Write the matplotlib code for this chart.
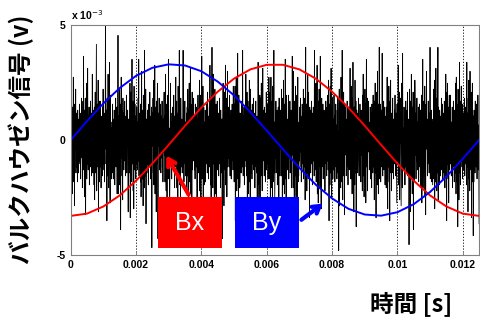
import numpy as np
import matplotlib
matplotlib.use("Agg")
import matplotlib.pyplot as plt
from matplotlib.patches import Rectangle

# Barkhausen noise samples, raw ADC counts (1 count = 0.13 mV)
noise = [
    3, -12, 8, 15, -6, -18, 11, 2, -9, 21, -4, -14, 7, -22, 12, 5, -3, 17, -11, 9,
    6, -9, 2, -14, 10, -4, 7, -11, 3, -7, 12, -2, -8, 5, -13, 9, -1, 14, -6, 4,
    -16, 4, 13, -7, 28, -10, 1, -19, 10, -5, 14, -25, 6, -2, 19, -13, 8, -8, 24, -1,
    -10, 8, -3, 11, -15, 1, 6, -9, 13, -5, 2, -12, 9, -7, 22, -4, -11, 7, -2, 10,
    -15, 11, -20, 3, 16, -6, -11, 9, 32, -17, 2, 12, -9, -3, 20, -24, 7, 13, -14, 5,
    -6, 13, -9, 3, -16, 8, -1, 5, -12, 11, -4, 17, -8, 2, -10, 6, -14, 9, -3, 38,
    18, -8, -2, 10, -27, 14, 4, -12, 22, -5, -16, 9, 1, 26, -10, -21, 15, -4, 6, -13,
    -7, 4, -11, 12, -2, 7, -13, 5, -8, 10, -1, -15, 8, -5, 14, -9, 3, -6, 11, -18,
    11, -7, 35, -18, 3, 8, -15, 17, -2, -9, 12, -30, 5, 21, -6, 10, -12, 2, -20, 14,
    2, 9, -10, 6, -3, 13, -7, 1, -12, 8, -4, 15, -11, 5, -2, 10, -9, -24, 7, -6,
    -3, 7, -11, 19, -26, 9, 16, -4, -14, 4, 27, -8, -1, 13, -17, 6, -23, 18, 0, -10,
    12, -3, 8, -13, 4, -8, 11, -1, -10, 6, -5, 14, -7, 27, -12, 3, -6, 9, -2, -14,
    12, -19, 5, 23, -7, -13, 10, 1, -22, 15, -5, 8, -16, 30, -9, 3, -12, 17, -28, 6,
    7, -11, 1, 10, -8, 5, -15, 12, -4, 2, -9, 16, -6, 3, -13, 8, -1, 11, -36, 6,
    9, -2, 14, -11, 20, -15, 4, -6, 25, -18, 11, -3, 7, -24, 13, -8, 2, 19, -10, -33,
    -5, 9, -2, 14, -10, 4, -7, 12, -3, -11, 8, -6, 1, 13, -9, 5, -14, 7, -4, 10,
    16, -5, 8, -14, 3, 22, -9, -17, 12, 6, -21, 10, -1, 15, -13, 27, -6, -11, 4, -19,
    -12, 3, 19, -8, 6, -1, -13, 9, -5, 11, -7, 2, -10, 15, -3, 8, -16, 4, -9, 12,
    21, -4, -8, 13, -16, 9, 2, -25, 18, -7, 11, -12, 30, -3, -15, 7, -20, 14, 5, -9,
    -2, 7, -11, 5, -6, 30, -9, 1, -14, 10, -4, 13, -8, 6, -12, 3, -1, 9, -17, 11,
    -12, 17, -2, 10, -23, 6, 19, -14, 1, -8, 24, -18, 12, -5, 3, -29, 16, -10, 8, 13,
    -7, 14, -3, 8, -10, 2, -13, 12, -5, 4, -9, 11, -2, -22, 7, -6, 15, -11, 1, 9,
    -6, 20, -17, 4, -11, 15, -26, 9, -3, 28, -13, 7, -9, 18, -21, 2, 11, -15, 6, -4,
    -4, 10, -14, 6, -1, 12, -8, 3, -11, 16, -6, 5, -13, 8, -2, 11, -9, 25, -5, -15,
    14, -20, 10, -7, 31, -12, 3, -16, 22, -8, -2, 13, -24, 8, 17, -11, 5, -18, 12, -36,
    8, -3, 13, -10, 4, -7, 9, -12, 2, -5, 14, -8, 6, -16, 10, -1, 7, -11, 3, -33,
    7, -3, 19, -13, 9, -22, 16, -6, 2, -10, 25, -15, 11, -4, 14, -19, 6, 23, -9, -1,
    11, -6, 5, -9, 15, -2, -12, 8, -4, 10, -13, 3, -7, 12, -1, 6, -10, 18, -8, 4,
    -14, 12, -5, 18, -27, 8, -11, 21, 1, -17, 10, -7, 29, -13, 4, -20, 15, -3, 9, -16,
    -14, 9, -3, 7, -11, 13, -5, 1, -9, 30, -6, -12, 8, -2, 11, -15, 5, -7, 10, -4,
    22, -9, 6, -12, 16, -24, 3, 13, -8, -18, 11, -2, 20, -14, 7, -26, 17, -5, 10, -11,
    3, -13, 12, -8, 6, -1, 14, -10, 4, -6, 9, -16, 7, -3, 13, -9, 2, -11, 8, -20,
    4, -15, 26, -6, 12, -21, 9, -1, 15, -10, -30, 14, -4, 19, -12, 8, -17, 2, 24, -7,
    10, -5, 1, -12, 11, -7, 5, -14, 9, -2, 16, -10, 3, -8, 12, -4, -13, 6, -1, 21,
    -13, 16, -8, 11, -19, 5, 21, -16, 3, -9, 13, -23, 18, -2, 8, -14, 30, -11, 6, -20,
    -9, 4, -6, 13, -11, 8, -3, 10, -15, 2, -7, 11, -1, -26, 14, -5, 9, -12, 6, -2,
    10, -3, 17, -12, 7, -25, 14, -6, -15, 20, -1, 9, -18, 12, -8, 27, -13, 4, -22, 15,
    12, -8, 3, -10, 7, -4, 15, -13, 1, 9, -6, 13, -11, 5, -2, 10, -16, 8, -5, 28,
    -5, 11, -16, 23, -10, 2, -28, 13, 8, -12, 18, -4, -19, 10, -7, 15, -24, 6, 21, -14,
    -3, -12, 6, -7, 11, -1, -9, 14, -4, 8, -14, 2, -10, 12, -6, 4, -8, 17, -13, 7,
    3, -9, 14, -20, 9, 31, -15, -2, 12, -17, 7, -11, 22, -5, -13, 16, -8, 1, -26, 11,
    -1, 10, -11, 5, -5, 13, -8, 2, -15, 9, -3, 11, -7, 6, -12, 30, -4, -10, 8, -2,
    19, -14, 5, -6, 25, -18, 10, -3, -21, 13, -9, 17, -1, 8, -16, 28, -12, 4, -23, 9,
    14, -9, 4, -6, 12, -13, 7, -1, 10, -11, 3, -17, 9, -5, 13, -8, 1, -12, 11, -4,
    -7, 15, -10, 20, -4, -27, 12, 6, -15, 18, -11, 2, 24, -8, -19, 11, -2, 14, -13, 7,
    6, -10, 15, -3, 8, -14, 2, -7, 12, -9, 5, -1, -13, 10, -6, 14, -11, 3, -37, 9,
    17, -22, 3, 13, -9, -16, 21, -5, 10, -14, 30, -7, -20, 9, -1, 16, -12, 5, -25, 12,
    -5, 11, -2, 7, -12, 4, -9, 13, -4, 1, -15, 8, -6, 11, -10, 5, -3, 24, -8, -13,
    -4, 18, -13, 8, -18, 14, -6, 26, -10, 1, -24, 11, 7, -15, 20, -3, -11, 13, -29, 6,
    10, -7, 3, -11, 9, -1, 14, -6, -12, 7, -4, 12, -9, 2, -14, 10, -5, 8, -2, -17,
    15, -8, 22, -12, 4, -19, 9, -2, 17, -14, 12, -21, 3, 27, -9, -6, 14, -17, 10, -1,
    13, -4, 6, -10, 1, -8, 11, -13, 5, -3, 9, -16, 12, -7, 4, -11, 15, -2, -9, 7,
    -20, 13, -5, 19, -11, 6, -26, 16, -3, 10, -15, 23, -8, 2, -18, 12, -12, 31, -7, -13,
    -6, 12, -14, 3, -5, 10, -9, 29, -1, -12, 8, -4, 13, -10, 6, -2, 11, -15, 5, -8,
    8, -16, 11, -4, 21, -10, -23, 15, 5, -9, 18, -14, 9, -27, 13, -2, 20, -11, 4, -17,
    9, -3, -11, 14, -6, 2, -13, 7, -1, 10, -8, 15, -5, 3, -12, 9, -4, -21, 12, -7,
    12, -6, 25, -15, 3, -12, 16, -20, 7, -1, 14, -8, -22, 19, -5, 10, -16, 29, -10, 2,
    4, -10, 11, -2, 8, -15, 6, -9, 13, -3, 1, -11, 10, -6, 16, -12, 2, -8, 7, -35,
    -11, 17, -3, 9, -24, 13, -7, 22, -13, 4, -18, 11, -9, 16, -30, 6, 14, -4, -14, 20,
    12, -5, 9, -13, 3, -7, 14, -1, -10, 6, -4, 11, -14, 8, -2, 12, -9, 5, -16, 10,
    1, -12, 15, -21, 10, -5, 27, -16, 8, -10, 13, -2, -19, 18, -8, 5, -25, 12, -3, 23,
    -3, 7, -12, 4, -8, 13, -6, 1, -11, 9, -5, 31, -13, 2, -7, 10, -1, -14, 6, -4,
    -15, 7, -9, 17, -13, 3, 20, -23, 11, -6, -14, 24, -1, 9, -17, 14, -11, 6, 31, -20,
    11, -9, 3, -15, 10, -2, 8, -12, 5, -6, 14, -10, 1, -4, 12, -13, 7, -3, 9, -11,
    13, -4, -16, 10, -7, 22, -12, 2, -27, 16, -8, 19, -3, -13, 11, -21, 8, 15, -10, 4,
    -1, 15, -8, 4, -12, 6, -5, 11, -16, 2, -9, 13, -3, 8, -14, 10, -6, 3, -11, 19,
    -18, 21, -6, 12, -14, 7, -29, 17, -2, 10, -20, 5, 26, -11, 3, -15, 13, -9, 18, -5,
    -7, 5, -13, 12, -2, 9, -10, 1, -6, 14, -12, 4, -8, 11, -4, 7, -15, 26, -9, -3,
    9, -24, 14, -8, 20, -13, 1, -17, 23, -4, 11, -10, 16, -26, 6, -1, 19, -14, 8, -32,
    8, -14, 10, -5, 3, -11, 13, -7, 2, -9, 12, -1, -13, 6, -4, 15, -10, 5, -8, -28,
]
mv_per_count = 0.13

# excitation field components (mV), sampled every 0.5 ms
t_field = [0.0, 0.0005, 0.001, 0.0015, 0.002, 0.0025, 0.003, 0.0035, 0.004,
           0.0045, 0.005, 0.0055, 0.006, 0.0065, 0.007, 0.0075, 0.008, 0.0085,
           0.009, 0.0095, 0.01, 0.0105, 0.011, 0.0115, 0.012, 0.0125]
bx = [-3.30, -3.20, -2.89, -2.41, -1.77, -1.02, -0.21, 0.62, 1.41, 2.10, 2.67,
      3.07, 3.27, 3.27, 3.07, 2.67, 2.10, 1.41, 0.62, -0.21, -1.02, -1.77,
      -2.41, -2.89, -3.20, -3.30]
by = [0.00, 0.82, 1.59, 2.26, 2.79, 3.14, 3.29, 3.24, 2.99, 2.54, 1.94, 1.21,
      0.41, -0.41, -1.21, -1.94, -2.54, -2.99, -3.24, -3.29, -3.14, -2.79,
      -2.26, -1.59, -0.82, 0.00]

xticks = [0, 0.002, 0.004, 0.006, 0.008, 0.01, 0.012]
xticklabels = ["0", "0.002", "0.004", "0.006", "0.008", "0.01", "0.012"]
yticks = [-5, 0, 5]

jp = ["Noto Sans CJK JP", "DejaVu Sans"]
plt.rcParams["font.family"] = ["Liberation Sans", "DejaVu Sans"]

fig = plt.figure(figsize=(4.81, 3.21), dpi=100)
ax = fig.add_axes([0.147, 0.2056, 0.849, 0.7165])

t_noise = np.linspace(0, 0.0125, len(noise))
ax.plot(t_noise, np.array(noise) * mv_per_count, color="black", lw=0.6)
ax.plot(t_field, bx, color="#ff0000", lw=1.4)
ax.plot(t_field, by, color="#0000ff", lw=1.4)

ax.set_xlim(0, 0.0125)
ax.set_ylim(-5, 5)
ax.set_xticks(xticks)
ax.set_xticklabels(xticklabels)
ax.set_yticks(yticks)
ax.set_yticklabels(["-5", "0", "5"])
ax.tick_params(direction="in", length=3, labelsize=7.5, width=0.6, colors="#808080",
               labelcolor="black")
for lab in ax.get_xticklabels() + ax.get_yticklabels():
    lab.set_fontweight("bold")
ax.xaxis.grid(True, color="black", lw=0.6, linestyle=(0, (1.5, 2)))
for sp in ax.spines.values():
    sp.set_color("#808080")
    sp.set_linewidth(0.8)

ax.text(0.0, 1.015, r"x 10$^{-3}$", transform=ax.transAxes, fontsize=7.5,
        fontweight="bold", ha="left", va="bottom")

fig.text(0.044, 0.565, "バルクハウゼン信号 (v)", rotation=90, ha="center", va="center",
         fontsize=17, fontweight="bold", family=jp)
fig.text(0.854, 0.055, "時間 [s]", ha="center", va="center", fontsize=17,
         fontweight="bold", family=jp)

# labelled boxes with arrows pointing at the field curves
for x0, x1, col, name in [(0.3285, 0.4615, "#ff0000", "Bx"),
                          (0.4886, 0.6216, "#0000ff", "By")]:
    fig.add_artist(Rectangle((x0, 0.227), x1 - x0, 0.159, transform=fig.transFigure,
                             facecolor=col, edgecolor="none"))
    fig.text((x0 + x1) / 2, 0.305, name, color="white", fontsize=18,
             ha="center", va="center")

ax.annotate("", xy=(0.343, 0.523), xytext=(0.395, 0.386), xycoords="figure fraction",
            textcoords="figure fraction",
            arrowprops=dict(arrowstyle="->,head_length=0.5,head_width=0.3",
                            color="#ff0000", lw=3))
ax.annotate("", xy=(0.676, 0.371), xytext=(0.622, 0.31), xycoords="figure fraction",
            textcoords="figure fraction",
            arrowprops=dict(arrowstyle="->,head_length=0.5,head_width=0.3",
                            color="#0000ff", lw=3))

fig.savefig("out.png", dpi=100)
